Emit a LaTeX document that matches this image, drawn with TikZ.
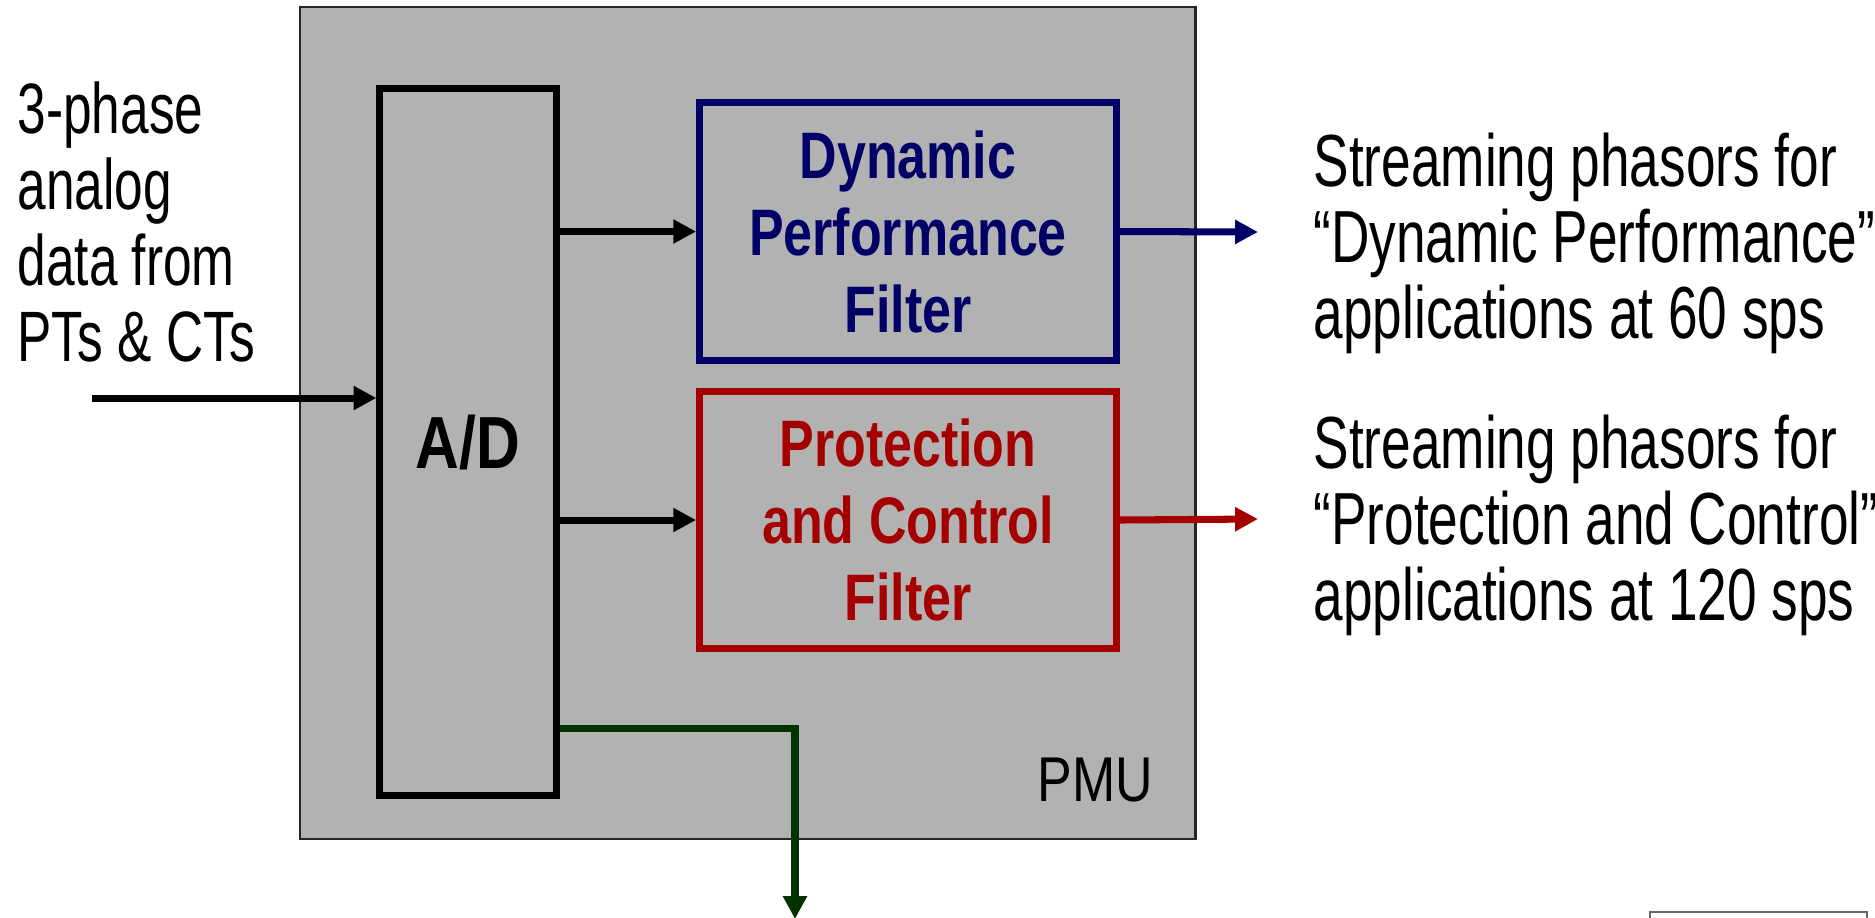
\documentclass[tikz,border=0pt]{standalone}
\usepackage{fontspec}
\setmainfont{Liberation Sans}[FakeStretch=0.82]
\newfontfamily\narrowfont{Liberation Sans}[FakeStretch=0.72]
\newfontfamily\boxfont{Liberation Sans Bold}[FakeStretch=0.79]
\usetikzlibrary{arrows.meta}
\definecolor{pmugray}{HTML}{B2B2B2}
\definecolor{dpfblue}{HTML}{000066}
\definecolor{pcfred}{HTML}{A50000}
\definecolor{mongreen}{HTML}{003300}

\begin{document}
\begin{tikzpicture}[x=0.01cm,y=-0.01cm,
    every node/.style={inner sep=0pt},
    wire/.style={line width=2pt,-{Triangle[length=6.5pt,width=6.5pt]}},
    filterbox/.style={draw,line width=2pt,minimum width=4.165cm,minimum height=2.57cm,
      align=center,font=\fontsize{18.7}{21.9}\boxfont},
    side/.style={align=left,anchor=west,font=\fontsize{21}{21.6}\narrowfont}]
    \useasboundingbox (0,0) rectangle (1875,917);
    \node[draw=black!85,line width=0.7pt,fill=pmugray,minimum width=8.95cm,minimum height=8.32cm] (PMU) at (747.5,423) {};
    \node[draw,line width=2pt,minimum width=1.76cm,minimum height=7.06cm,
      font=\fontsize{21}{24}\bfseries\selectfont] (AD) at (468,442) {A/D};
    \node[filterbox,text=dpfblue,draw=dpfblue] (F1) at (908,231.5) {Dynamic\\Performance\\Filter};
    \node[filterbox,text=pcfred,draw=pcfred] (F2) at (908,520) {Protection\\and Control\\Filter};
    \node[anchor=south east,font=\fontsize{18}{20}\selectfont] (PMUlabel) at (1154,803) {PMU};
    \node[side,font=\fontsize{20.3}{21.6}\narrowfont] (in) at (17,222) {3-phase\\analog\\data from\\PTs \& CTs};
    \node[side] (out1) at (1313,243) {Streaming phasors for\\“Dynamic Performance”\\applications at 60 sps};
    \node[side] (out2) at (1313,525) {Streaming phasors for\\“Protection and Control”\\applications at 120 sps};
    \coordinate (src) at (92,398);
    \coordinate (out1end) at (1258,232);
    \coordinate (out2end) at (1258,519);
    \coordinate (tap) at (795,728);
    \coordinate (monitor) at (795,919);
    \draw[wire] (src) -- (src -| AD.west);
    \draw[wire] (AD.east |- F1.west) -- (F1.west);
    \draw[wire] (AD.east |- F2.west) -- (F2.west);
    \draw[wire,dpfblue] (F1.east) -- (out1end);
    \draw[wire,pcfred] (F2.east) -- (out2end);
    \draw[wire,mongreen] (AD.east |- tap) -- (tap) -- (monitor);
    \draw[black!60,fill=white] (1650,912) rectangle (1867,960);
  \end{tikzpicture}
\end{document}
